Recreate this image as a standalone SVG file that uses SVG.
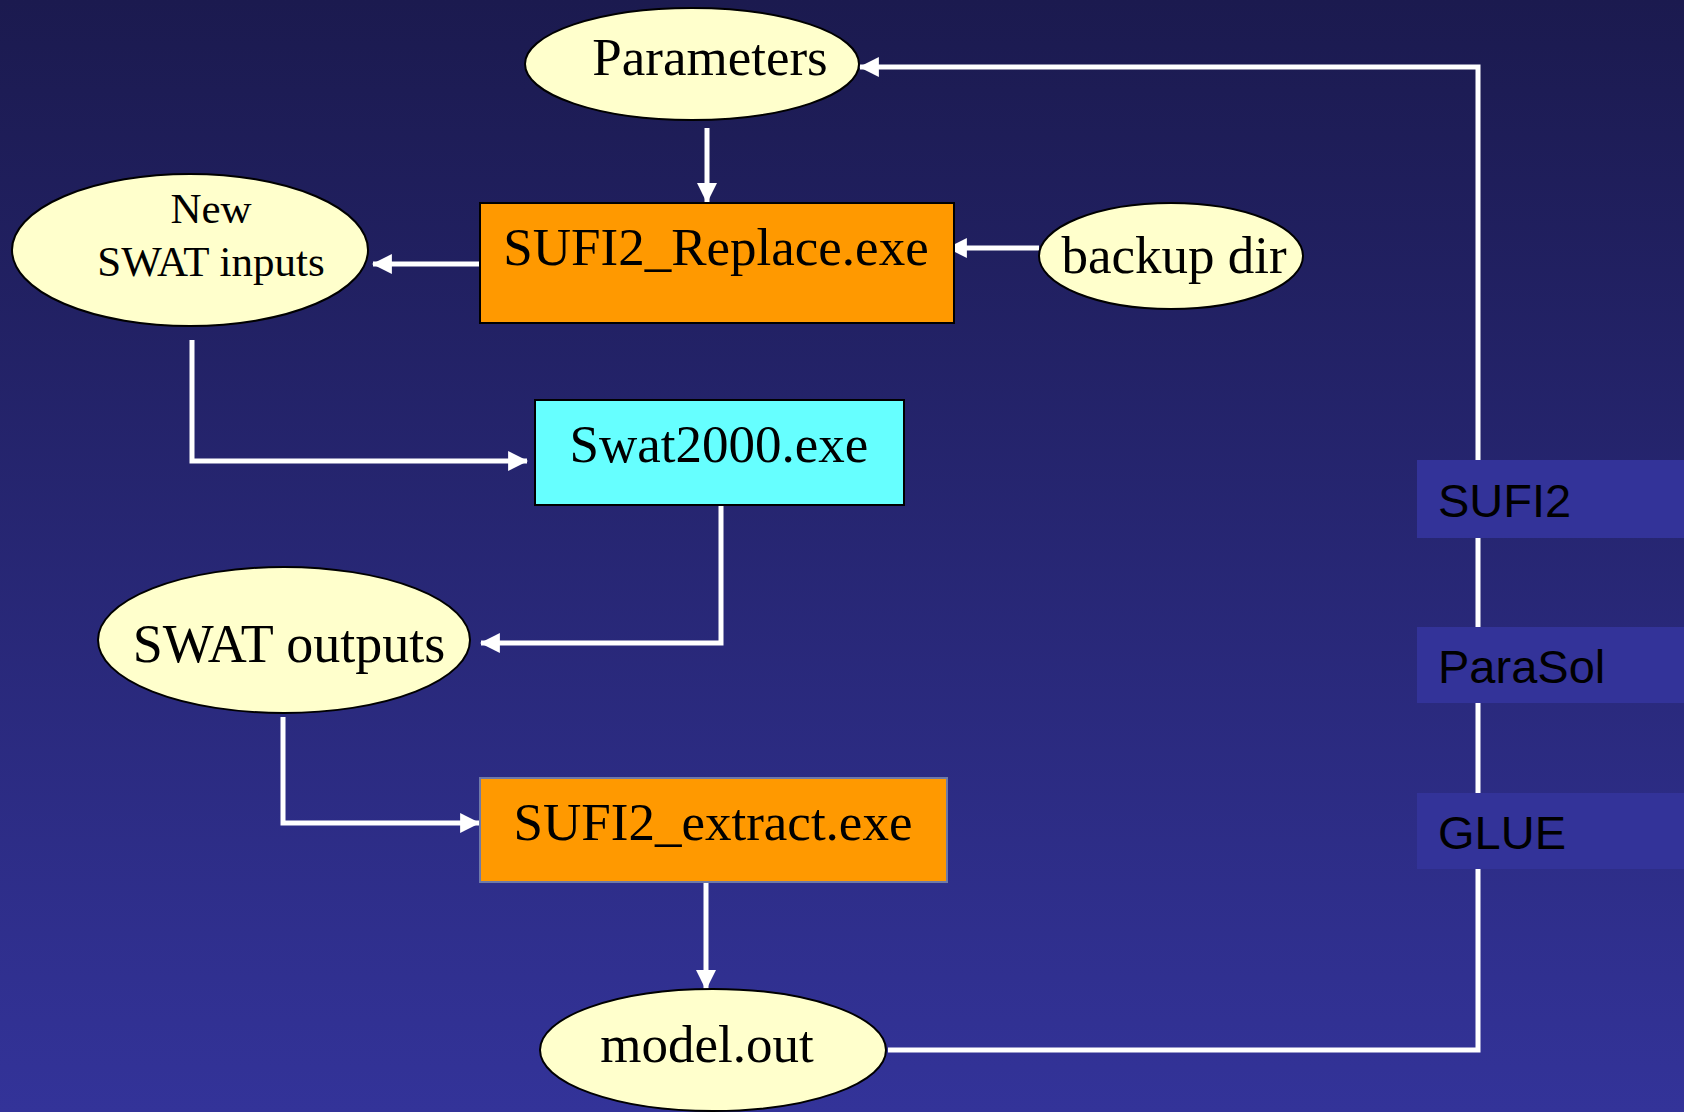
<svg xmlns="http://www.w3.org/2000/svg" width="1684" height="1112" viewBox="0 0 1684 1112">
<defs>
<linearGradient id="bg" x1="0" y1="0" x2="0" y2="1">
<stop offset="0" stop-color="#1b1a4f"/>
<stop offset="1" stop-color="#333399"/>
</linearGradient>
<marker id="ah" markerUnits="userSpaceOnUse" markerWidth="20" markerHeight="20" viewBox="0 0 18 18" refX="17" refY="9" orient="auto">
<path d="M0,0 L18,9 L0,18 Z" fill="#ffffff"/>
</marker>
<style>
.ell{fill:#ffffcc;stroke:#000;stroke-width:2}
.t{font-family:"Liberation Serif","Times New Roman",serif;fill:#000;text-anchor:middle}
.lab{font-family:"Liberation Sans",Arial,sans-serif;font-size:47px;fill:#000}
.conn{fill:none;stroke:#fff;stroke-width:5}
.lbox{fill:#333399}
</style>
</defs>
<rect x="0" y="0" width="1684" height="1112" fill="url(#bg)"/>
<g id="connectors">
<path class="conn" d="M707,128 V202" marker-end="url(#ah)"/>
<path class="conn" d="M1039,248 H948" marker-end="url(#ah)"/>
<path class="conn" d="M480,264 H373" marker-end="url(#ah)"/>
<path class="conn" d="M192,340 V461 H527" marker-end="url(#ah)"/>
<path class="conn" d="M721,505 V643 H481" marker-end="url(#ah)"/>
<path class="conn" d="M283,717 V823 H479" marker-end="url(#ah)"/>
<path class="conn" d="M706,883 V989" marker-end="url(#ah)"/>
<path class="conn" d="M888,1050 H1478 V67 H860" marker-end="url(#ah)"/>
</g>
<g id="parameters">
<ellipse class="ell" cx="692" cy="64" rx="167" ry="56"/>
<text class="t" x="710" y="75" font-size="53">Parameters</text>
</g>
<g id="sufi2-replace">
<rect x="480" y="203" width="474" height="120" fill="#ff9900" stroke="#000" stroke-width="2"/>
<text class="t" x="716" y="265" font-size="53">SUFI2_Replace.exe</text>
</g>
<g id="backup-dir">
<ellipse class="ell" cx="1171" cy="256" rx="132" ry="53"/>
<text class="t" x="1174" y="273" font-size="53">backup dir</text>
</g>
<g id="new-swat-inputs">
<ellipse class="ell" cx="190" cy="250" rx="178" ry="76"/>
<text class="t" x="211" y="223" font-size="43">New</text>
<text class="t" x="211" y="276" font-size="43">SWAT inputs</text>
</g>
<g id="swat2000">
<rect x="535" y="400" width="369" height="105" fill="#66ffff" stroke="#000" stroke-width="2"/>
<text class="t" x="719" y="462" font-size="53">Swat2000.exe</text>
</g>
<g id="swat-outputs">
<ellipse class="ell" cx="284" cy="640" rx="186" ry="73"/>
<text class="t" x="289" y="662" font-size="54">SWAT outputs</text>
</g>
<g id="sufi2-extract">
<rect x="480" y="778" width="467" height="104" fill="#ff9900" stroke="#6f7aa8" stroke-width="2"/>
<text class="t" x="713" y="840" font-size="53">SUFI2_extract.exe</text>
</g>
<g id="model-out">
<ellipse class="ell" cx="713" cy="1050" rx="173" ry="61"/>
<text class="t" x="707" y="1062" font-size="53">model.out</text>
</g>
<g id="label-sufi2">
<rect class="lbox" x="1417" y="460" width="267" height="78"/>
<text class="lab" x="1438" y="517">SUFI2</text>
</g>
<g id="label-parasol">
<rect class="lbox" x="1417" y="627" width="267" height="76"/>
<text class="lab" x="1438" y="683">ParaSol</text>
</g>
<g id="label-glue">
<rect class="lbox" x="1417" y="793" width="267" height="76"/>
<text class="lab" x="1438" y="849">GLUE</text>
</g>
</svg>
